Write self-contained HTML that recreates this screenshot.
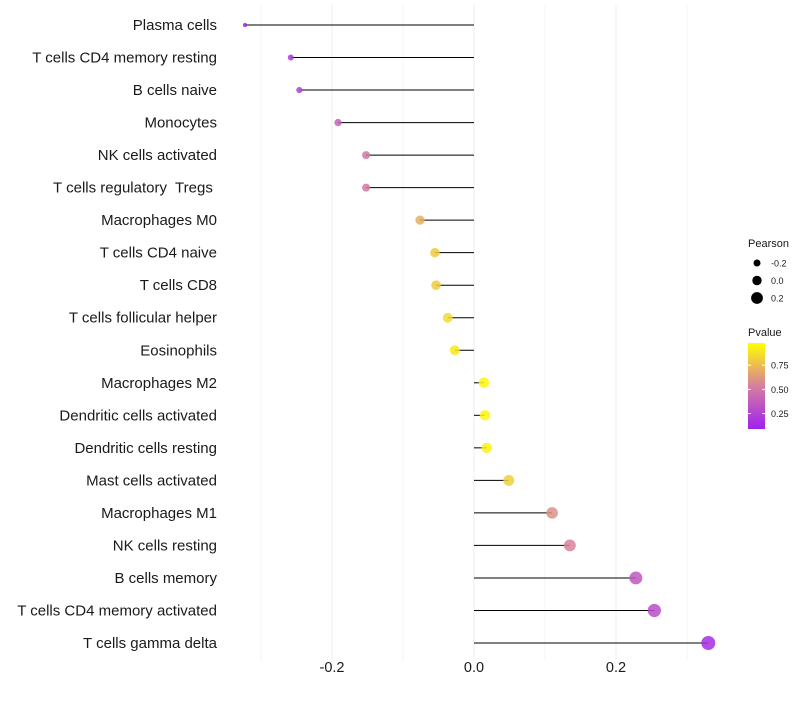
<!DOCTYPE html>
<html><head><meta charset="utf-8"><style>
body{margin:0;background:#fff;font-family:"Liberation Sans",sans-serif}
text{white-space:pre}
</style></head><body>
<svg id="c" width="800" height="700" xmlns="http://www.w3.org/2000/svg" font-family="Liberation Sans, sans-serif"></svg>
<script>
const categories=["Plasma cells","T cells CD4 memory resting","B cells naive","Monocytes","NK cells activated","T cells regulatory  Tregs ","Macrophages M0","T cells CD4 naive","T cells CD8","T cells follicular helper","Eosinophils","Macrophages M2","Dendritic cells activated","Dendritic cells resting","Mast cells activated","Macrophages M1","NK cells resting","B cells memory","T cells CD4 memory activated","T cells gamma delta"];
const pearson=[-0.3225,-0.258,-0.246,-0.1915,-0.152,-0.152,-0.076,-0.055,-0.0535,-0.037,-0.027,0.014,0.0155,0.018,0.049,0.11,0.135,0.228,0.254,0.33];
const pvalue=[0.1,0.2,0.25,0.4,0.5,0.5,0.7,0.8,0.8,0.85,0.9,0.95,0.95,0.93,0.82,0.6,0.55,0.35,0.3,0.15];
const xTicks=[-0.2,0.0,0.2];
const xTickLabels=["-0.2","0.0","0.2"];
const minorTicks=[-0.3,-0.1,0.1,0.3];
const sizeLegend=[-0.2,0.0,0.2];
const colorTicks=[0.25,0.5,0.75];
const NS="http://www.w3.org/2000/svg";
const svg=document.getElementById('c');
const x=v=>474+v*710;
const y=i=>25+i*(618/(categories.length-1));
const r=v=>Math.sqrt(4+68*Math.max(0,v+0.33));
function mix(a,b,t){return a.map((c,i)=>Math.round(c+(b[i]-c)*t));}
function col(p){const P=[160,32,240],M=[214,127,158],Y=[255,255,0];const t=Math.max(0,Math.min(1,(p-0.09)/(0.98-0.09)));
 const c=t<0.5?mix(P,M,t*2):mix(M,Y,(t-0.5)*2);return `rgb(${c})`;}
function el(t,a,p){const e=document.createElementNS(NS,t);for(const k in a)e.setAttribute(k,a[k]);(p||svg).appendChild(e);return e;}
minorTicks.forEach(v=>{const l=el('line',{x1:x(v),x2:x(v),y1:5,y2:660,stroke:'#f4f4f4','stroke-width':1});

});
xTicks.forEach((v,i)=>{const l=el('line',{x1:x(v),x2:x(v),y1:5,y2:660,stroke:'#ededed','stroke-width':1});


const t=el('text',{x:x(v),y:672,'text-anchor':'middle','font-size':14.5,fill:'#1a1a1a'});t.textContent=xTickLabels[i];

});
categories.forEach((c,i)=>{
 const t=el('text',{x:217,y:y(i)+5,'text-anchor':'end','font-size':15,fill:'#1a1a1a'});t.textContent=c;
 
 
 const l=el('line',{x1:x(0),x2:x(pearson[i]),y1:y(i),y2:y(i),stroke:'#000','stroke-width':1});
 
 
 const d=el('circle',{cx:x(pearson[i]),cy:y(i),r:r(pearson[i]),fill:col(pvalue[i]),'fill-opacity':0.85});
 
 
});
const g=el('g',{});


let tt=el('text',{x:748,y:247,'font-size':11,fill:'#1a1a1a'},g);tt.textContent='Pearson';
sizeLegend.forEach((v,i)=>{const cy=263+i*17.5;
 const c=el('circle',{cx:757,cy:cy,r:3.5+i*1.2,fill:'#000'},g);
 
 
 const t=el('text',{x:771,y:cy+3.5,'font-size':9,fill:'#1a1a1a'},g);t.textContent=v.toFixed(1);
});
tt=el('text',{x:748,y:336,'font-size':11,fill:'#1a1a1a'},g);tt.textContent='Pvalue';
const defs=el('defs',{});
const lg=el('linearGradient',{id:'pg',x1:0,y1:1,x2:0,y2:0},defs);
[[0,0.09],[0.5,0.535],[1,0.98]].forEach(s=>el('stop',{offset:s[0],'stop-color':col(s[1])},lg));
const bar=el('rect',{x:748,y:343,width:17,height:86,fill:'url(#pg)'},g);


const cy=p=>429-(p-0.09)/(0.98-0.09)*86;
colorTicks.forEach(p=>{
 el('line',{x1:748,x2:751,y1:cy(p),y2:cy(p),stroke:'#fff'},g);
 el('line',{x1:762,x2:765,y1:cy(p),y2:cy(p),stroke:'#fff'},g);
 const t=el('text',{x:771,y:cy(p)+3.5,'font-size':9,fill:'#1a1a1a'},g);t.textContent=p.toFixed(2);
});
</script>
</body></html>
